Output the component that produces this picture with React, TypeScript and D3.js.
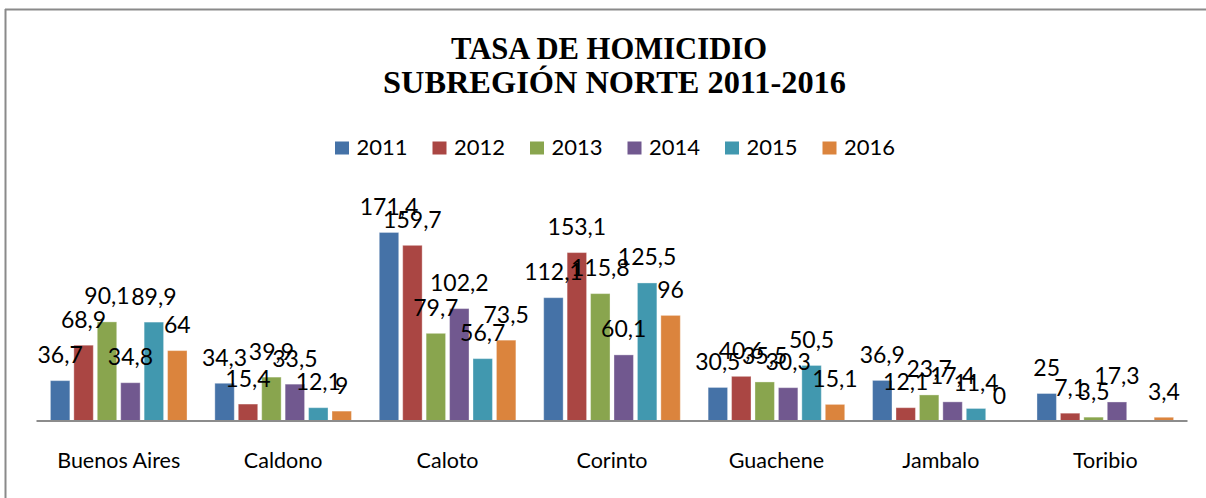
import React from "react";
import * as d3 from "d3";

const categories = ["Buenos Aires", "Caldono", "Caloto", "Corinto", "Guachene", "Jambalo", "Toribio"];
const years = ["2011", "2012", "2013", "2014", "2015", "2016"];
const s2011 = [36.7, 34.3, 171.4, 112.1, 30.5, 36.9, 25];
const s2012 = [68.9, 15.4, 159.7, 153.1, 40.6, 12.1, 7.1];
const s2013 = [90.1, 39.9, 79.7, 115.8, 35.5, 23.7, 3.5];
const s2014 = [34.8, 33.5, 102.2, 60.1, 30.3, 17.4, 17.3];
const s2015: (number | null)[] = [89.9, 12.1, 56.7, 125.5, 50.5, 11.4, null];
const s2016 = [64, 9, 73.5, 96, 15.1, 0, 3.4];
const seriesValues = [s2011, s2012, s2013, s2014, s2015, s2016];
const colors = ["#4572A7", "#AA4643", "#89A54E", "#71588F", "#4198AF", "#DB843D"];

const W = 1206;
const H = 498;
const FONT = "Lato, 'Open Sans', sans-serif";
const SERIF = "'Liberation Serif', 'Times New Roman', serif";

export default function App() {
  const x0 = d3.scaleBand<string>().domain(categories).range([36.5, 1187.5]).paddingInner(0).paddingOuter(0);
  const bw = x0.bandwidth();
  const x1 = d3
    .scaleBand<string>()
    .domain(years)
    .range([bw * 0.0725, bw * (1 - 0.0725)])
    .paddingInner(0.17)
    .paddingOuter(0.085);
  const y = d3.scaleLinear().domain([0, 200]).range([421, 201]);
  const fmt = (v: number) => String(v).replace(".", ",");

  const legendX = d3.scaleLinear().domain([0, 5]).range([335, 822.5]);

  return (
    <svg
      width={W}
      height={H}
      style={{ position: "absolute", left: 0, top: 0, background: "#fff" }}
    >
      <rect x={0} y={0} width={W} height={H} fill="#fff" />
      {/* frame */}
      <line x1={5} y1={9.5} x2={W} y2={9.5} stroke="#8a8a8a" strokeWidth={2} />
      <line x1={5.5} y1={9} x2={5.5} y2={H} stroke="#8a8a8a" strokeWidth={2} />

      {/* title */}
      <text
        x={609}
        y={59.3}
        textAnchor="middle"
        fontFamily={SERIF}
        fontWeight="bold"
        fontSize={30.5}
        textLength={316}
        lengthAdjust="spacingAndGlyphs"
      >
        TASA DE HOMICIDIO
      </text>
      <text
        x={614.5}
        y={93.3}
        textAnchor="middle"
        fontFamily={SERIF}
        fontWeight="bold"
        fontSize={30.5}
        textLength={463}
        lengthAdjust="spacingAndGlyphs"
      >
        SUBREGIÓN NORTE 2011-2016
      </text>

      {/* legend */}
      {years.map((yr, i) => (
        <g key={yr}>
          <rect x={legendX(i)} y={141.5} width={14} height={13} fill={colors[i]} />
          <text x={legendX(i) + 21.5} y={155} fontFamily={FONT} fontSize={22} fill="#000">
            {yr}
          </text>
        </g>
      ))}

      {/* bars */}
      {categories.map((cat, ci) => (
        <g key={cat} transform={`translate(${x0(cat)},0)`}>
          {years.map((yr, si) => {
            const v = seriesValues[si][ci];
            if (v === null || v === undefined) return null;
            const bx = x1(yr)!;
            return (
              <rect
                key={yr}
                x={bx}
                y={y(v)}
                width={x1.bandwidth()}
                height={Math.max(0, y(0) - y(v))}
                fill={colors[si]}
                stroke="#ffffff"
                strokeOpacity={0.35}
                strokeWidth={1}
              />
            );
          })}
        </g>
      ))}

      {/* axis */}
      <line x1={36.5} y1={421} x2={1187.5} y2={421} stroke="#8c8c8c" strokeWidth={2} />

      {/* data labels */}
      {categories.map((cat, ci) => (
        <g key={cat + "-lbl"} transform={`translate(${x0(cat)},0)`}>
          {years.map((yr, si) => {
            const v = seriesValues[si][ci];
            if (v === null || v === undefined) return null;
            return (
              <text
                key={yr}
                x={x1(yr)! + x1.bandwidth() / 2}
                y={y(v) - 17.5}
                textAnchor="middle"
                fontFamily={FONT}
                fontSize={23}
                fill="#000"
              >
                {fmt(v)}
              </text>
            );
          })}
        </g>
      ))}

      {/* category labels */}
      {categories.map((cat) => (
        <text
          key={cat + "-cat"}
          x={x0(cat)! + bw / 2}
          y={467.5}
          textAnchor="middle"
          fontFamily={FONT}
          fontSize={21.5}
          fill="#000"
        >
          {cat}
        </text>
      ))}
    </svg>
  );
}
